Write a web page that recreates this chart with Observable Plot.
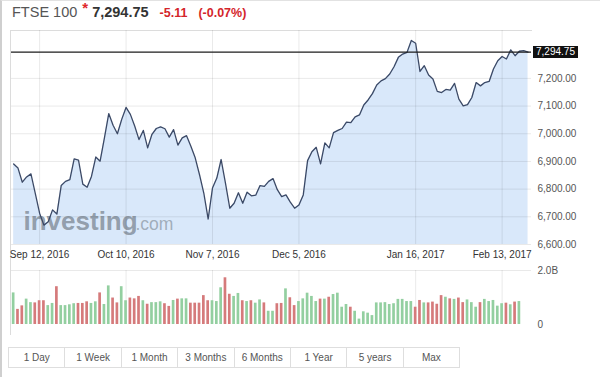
<!DOCTYPE html>
<html>
<head>
<meta charset="utf-8">
<script src="https://cdn.jsdelivr.net/npm/d3@7"></script>
<script src="https://cdn.jsdelivr.net/npm/@observablehq/plot@0.6"></script>
<style>
html, body { margin: 0; padding: 0; background: #fff; }
body { width: 600px; height: 377px; overflow: hidden; position: relative; font-family: "Liberation Sans", Arial, sans-serif; }
#outer { position: absolute; left: 0; top: 0; width: 600px; height: 377px; border-left: 2px solid #cfcfcf; border-top: 1px solid #e2e2e2; box-sizing: border-box; }
#header { position: absolute; left: 12px; top: 3px; white-space: nowrap; display: flex; align-items: baseline; height: 22px; }
#header .name { font-size: 14.5px; color: #555; }
#header .star { font-size: 15px; color: #e0262b; font-weight: bold; position: relative; top: -4px; margin-left: 5px; }
#header .last { font-size: 14.5px; color: #333; font-weight: bold; margin-left: 4px; }
#header .chg { font-size: 12.5px; color: #d4252b; font-weight: bold; margin-left: 11px; }
#header .pct { font-size: 12.5px; color: #d4252b; font-weight: bold; margin-left: 11px; }
#topline { position: absolute; left: 10px; top: 30px; width: 522px; height: 1px; background: #dcdcdc; }
#leftline { position: absolute; left: 10px; top: 30px; width: 1px; height: 305px; background: #dcdcdc; }
#price { position: absolute; left: 0; top: 30px; }
#vol { position: absolute; left: 0; top: 262px; }
#lastbox { position: absolute; left: 533px; width: 45px; height: 12px; background: #111; color: #fff; font-size: 10px; line-height: 12px; text-align: center; }
#buttons { position: absolute; left: 9px; top: 347px; display: flex; }
#buttons div { width: 57.4px; height: 21px; box-sizing: border-box; border: 1px solid #dedede; margin-left: -1px; font-size: 10px; color: #555; line-height: 19px; text-align: center; background: #fff; }
</style>
</head>
<body>
<div id="outer"></div>
<div id="header"></div>
<div id="topline"></div>
<div id="leftline"></div>
<div id="price"></div>
<div id="vol"></div>
<div id="lastbox"></div>
<div id="buttons"></div>
<script>
// ---------- data ----------
const indexName = "FTSE 100";
const lastPriceText = "7,294.75";
const changeText = "-5.11";
const changePctText = "(-0.07%)";

// trading calendar (first trading day shown, UK market holidays in range)
const firstDay = "2016-09-02";
const holidays = ["2016-12-26", "2016-12-27", "2017-01-02"];

// daily closes, one per trading day
const closes = [
  6891, 6876, 6825, 6844, 6855, 6785, 6713, 6670, 6682, 6725,
  6710, 6813, 6828, 6834, 6909, 6905, 6818, 6807, 6846, 6916,
  6901, 6985, 7073, 7031, 7000, 7052, 7095, 7070, 7028, 6979,
  7012, 6949, 6998, 7019, 7025, 7018, 6988, 7015, 6959, 6985,
  6993, 6955, 6913, 6852, 6785, 6692, 6804, 6840, 6907, 6822,
  6731, 6749, 6787, 6749, 6789, 6776, 6778, 6813, 6810, 6828,
  6838, 6798, 6773, 6779, 6753, 6731, 6743, 6779, 6903, 6935,
  6951, 6891, 6967, 6949, 7004, 7012, 7019, 7042, 7040, 7061,
  7068, 7104, 7122, 7145, 7176, 7191, 7199, 7216, 7242, 7276,
  7288, 7294, 7337, 7327, 7225, 7246, 7212, 7198, 7153, 7149,
  7160, 7158, 7182, 7125, 7101, 7105, 7131, 7185, 7173, 7185,
  7189, 7234, 7264, 7279, 7270, 7303, 7282, 7298, 7300, 7294.75
];

// daily volume, billions (shown for the first 118 days)
const volumes = [
  1.17, 0.56, 0.69, 0.94, 0.81, 0.80, 0.88, 0.88, 0.70, 0.78,
  1.40, 0.70, 0.70, 0.73, 0.77, 0.78, 0.78, 0.84, 0.78, 0.84,
  1.17, 0.74, 1.43, 0.98, 0.80, 1.40, 0.88, 0.98, 0.95, 1.04,
  0.88, 0.75, 0.81, 0.81, 0.84, 0.77, 0.67, 0.89, 0.94, 0.95,
  0.95, 0.79, 0.79, 0.79, 1.07, 0.88, 0.88, 0.85, 1.36, 1.73,
  1.12, 1.04, 1.15, 0.88, 0.85, 0.88, 0.79, 0.91, 0.80, 0.49,
  0.49, 0.77, 0.78, 1.32, 0.99, 0.70, 0.85, 0.95, 1.16, 1.04,
  0.85, 0.94, 0.94, 1.01, 1.11, 1.16, 0.64, 0.74, 0.64, 0.49,
  0.20, 0.47, 0.42, 0.33, 0.80, 0.80, 0.81, 0.74, 0.77, 0.93,
  0.93, 0.85, 0.85, 0.64, 0.89, 0.80, 0.80, 0.83, 0.75, 1.07,
  1.01, 0.95, 0.93, 0.98, 0.81, 0.91, 0.81, 0.64, 0.81, 0.93,
  0.85, 0.89, 0.68, 0.77, 0.79, 0.73, 0.83, 0.85
];

const xTickLabels = ["Sep 12, 2016", "Oct 10, 2016", "Nov 7, 2016", "Dec 5, 2016", "Jan 16, 2017", "Feb 13, 2017"];
const priceTicks = [6600, 6700, 6800, 6900, 7000, 7100, 7200];
const volumeTicks = [0, 2.0];
const rangeButtons = ["1 Day", "1 Week", "1 Month", "3 Months", "6 Months", "1 Year", "5 years", "Max"];

// ---------- build ----------
const fmtDay = d3.utcFormat("%Y-%m-%d");
const fmtLabel = d3.utcFormat("%b %-d, %Y");
const dates = [];
for (let d = new Date(firstDay + "T00:00:00Z"); dates.length < closes.length; d = new Date(d.getTime() + 86400000)) {
  const wd = d.getUTCDay();
  if (wd === 0 || wd === 6 || holidays.includes(fmtDay(d))) continue;
  dates.push(fmtLabel(d));
}
const tickIdx = xTickLabels.map(l => dates.indexOf(l));

const data = closes.map((c, i) => ({i, close: c}));
const volData = volumes.map((v, i) => ({i, vol: v, dir: (i === 0 || closes[i] >= closes[i - 1]) ? "up" : "down"}));

const xDomain = [-0.5, closes.length - 0.2];
const font = "Liberation Sans, Arial, sans-serif";
const grid = {stroke: "#000", strokeOpacity: 0.085};
const numFmt = d3.format(",.2f");

const price = Plot.plot({
  width: 600, height: 240,
  marginLeft: 11, marginRight: 69, marginTop: 0, marginBottom: 26,
  style: {fontFamily: font, fontSize: "10px", background: "transparent", overflow: "visible"},
  x: {domain: xDomain, axis: null},
  y: {domain: [6600, 7373], axis: null},
  marks: [
    Plot.areaY(data, {x: "i", y: "close", fill: "#d9e8fa", clip: true}),
    Plot.text(["investing"], {frameAnchor: "bottom-left", text: d => d, dx: 12, dy: -15, fontSize: 26, fontWeight: "bold", fill: "#8995a2", fillOpacity: 0.9, textAnchor: "start"}),
    Plot.text([".com"], {frameAnchor: "bottom-left", text: d => d, dx: 124, dy: -15, fontSize: 17.5, fill: "#9aa6b2", fillOpacity: 0.9, textAnchor: "start"}),
    Plot.ruleY(priceTicks, grid),
    Plot.ruleX(tickIdx, grid),
    Plot.line(data, {x: "i", y: "close", stroke: "#3b4966", strokeWidth: 1.3}),
    Plot.ruleY([closes[closes.length - 1]], {stroke: "#1c1c1c", strokeWidth: 1.2}),
    Plot.text(priceTicks, {y: d => d, text: d => numFmt(d), frameAnchor: "right", textAnchor: "start", dx: 6, fill: "#555"}),
    Plot.text(tickIdx, {x: d => d, text: d => dates[d], frameAnchor: "bottom", dy: 13, fill: "#333"})
  ]
});
document.getElementById("price").appendChild(price);

const vol = Plot.plot({
  width: 600, height: 68,
  marginLeft: 11, marginRight: 69, marginTop: 8, marginBottom: 6,
  style: {fontFamily: font, fontSize: "10px", background: "transparent", overflow: "visible"},
  x: {domain: xDomain, axis: null},
  y: {domain: [0, 2.0], axis: null},
  color: {domain: ["up", "down"], range: ["#93cfa0", "#d57a7b"]},
  marks: [
    Plot.ruleY([2.0], grid),
    Plot.ruleX(tickIdx, grid),
    Plot.rectY(volData, {x1: d => d.i - 0.31, x2: d => d.i + 0.31, y: "vol", fill: "dir"}),
    Plot.text(volumeTicks, {y: d => d, text: d => d === 0 ? "0" : d.toFixed(1) + "B", frameAnchor: "right", textAnchor: "start", dx: 6, fill: "#555"})
  ]
});
document.getElementById("vol").appendChild(vol);

// header
const h = document.getElementById("header");
h.innerHTML = `<span class="name">${indexName}</span><span class="star">*</span><span class="last">${lastPriceText}</span><span class="chg">${changeText}</span><span class="pct">${changePctText}</span>`;

// last-price label box placed via the price y scale
const box = document.getElementById("lastbox");
box.textContent = numFmt(closes[closes.length - 1]);
box.style.top = (30 + price.scale("y").apply(closes[closes.length - 1]) - 6) + "px";

// range buttons
const b = document.getElementById("buttons");
for (const t of rangeButtons) {
  const el = document.createElement("div");
  el.textContent = t;
  b.appendChild(el);
}
</script>
</body>
</html>
